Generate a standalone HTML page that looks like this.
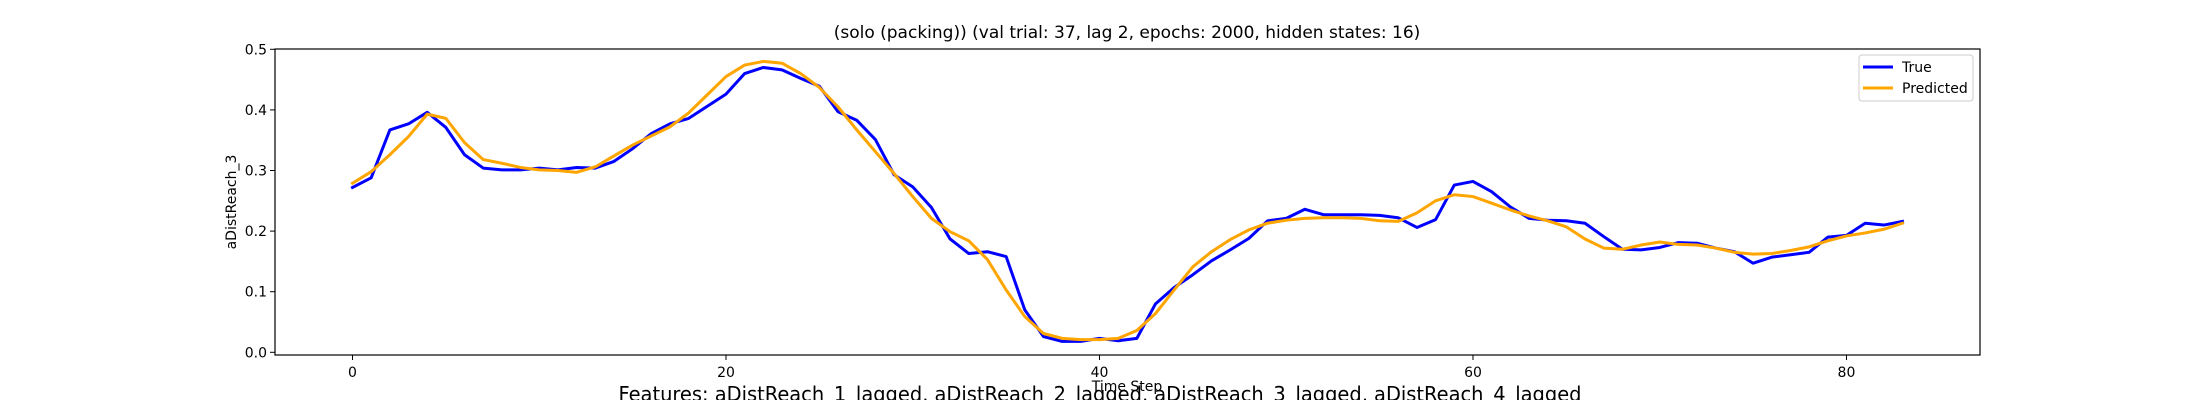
<!DOCTYPE html>
<html><head><meta charset="utf-8"><style>
html,body{margin:0;padding:0;background:#fff;}
svg{display:block;font-family:"DejaVu Sans","Liberation Sans",sans-serif;}
</style></head><body>
<svg id="chart" width="2200" height="400" viewBox="0 0 2200 400" xmlns="http://www.w3.org/2000/svg">
<rect width="2200" height="400" fill="#fff"/>
<text x="1127" y="38" font-size="17" text-anchor="middle">(solo (packing)) (val trial: 37, lag 2, epochs: 2000, hidden states: 16)</text>
<g id="axes"></g>
<text transform="translate(236,202) rotate(-90)" font-size="14" text-anchor="middle">aDistReach_3</text>
<text x="1127" y="391" font-size="14" text-anchor="middle">Time Step</text>
<text x="1100" y="401" font-size="20" text-anchor="middle" textLength="963" lengthAdjust="spacingAndGlyphs">Features: aDistReach_1_lagged, aDistReach_2_lagged, aDistReach_3_lagged, aDistReach_4_lagged</text>
<g>
<rect x="1859" y="55" width="114" height="46" rx="3" fill="#fff" stroke="#ccc" stroke-width="1"/>
<line x1="1863" y1="67" x2="1893" y2="67" stroke="#0000ff" stroke-width="3"/>
<text x="1902" y="72" font-size="14">True</text>
<line x1="1863" y1="88" x2="1893" y2="88" stroke="#ffa500" stroke-width="3"/>
<text x="1902" y="93" font-size="14">Predicted</text>
</g>
</svg>
<script>
const trueVals = [0.272,0.288,0.367,0.377,0.396,0.371,0.326,0.304,0.301,0.301,0.304,0.301,0.305,0.304,0.315,0.336,0.361,0.377,0.386,0.406,0.426,0.460,0.470,0.466,0.452,0.439,0.397,0.383,0.351,0.293,0.273,0.239,0.187,0.163,0.166,0.158,0.070,0.026,0.018,0.018,0.023,0.019,0.023,0.080,0.107,0.128,0.151,0.169,0.188,0.217,0.221,0.236,0.227,0.227,0.227,0.226,0.222,0.206,0.219,0.276,0.282,0.265,0.240,0.221,0.218,0.217,0.213,0.191,0.170,0.169,0.173,0.181,0.180,0.172,0.166,0.147,0.157,0.161,0.165,0.190,0.193,0.213,0.210,0.216];
const predVals = [0.279,0.298,0.326,0.356,0.393,0.386,0.346,0.318,0.312,0.305,0.301,0.300,0.297,0.306,0.324,0.342,0.357,0.372,0.395,0.425,0.455,0.474,0.480,0.477,0.460,0.437,0.405,0.367,0.331,0.295,0.257,0.221,0.199,0.184,0.153,0.103,0.059,0.031,0.023,0.021,0.021,0.023,0.036,0.064,0.103,0.141,0.166,0.186,0.202,0.213,0.218,0.221,0.222,0.222,0.221,0.217,0.216,0.230,0.250,0.260,0.257,0.246,0.235,0.225,0.217,0.207,0.187,0.172,0.170,0.177,0.182,0.178,0.177,0.172,0.165,0.162,0.163,0.168,0.174,0.184,0.192,0.197,0.203,0.213];
const xTicks = [0,20,40,60,80];
const yTicks = [0.0,0.1,0.2,0.3,0.4,0.5];
const yTickLabels = ["0.0","0.1","0.2","0.3","0.4","0.5"];

const L=275,R=1980,T=49,B=355;
const xMin=-4.15,xMax=87.15;
function xs(v){return L+(v-xMin)/(xMax-xMin)*(R-L);}
function ys(v){return 352.3-(v/0.5)*(352.3-49.3);}
const NS="http://www.w3.org/2000/svg";
const g=document.getElementById('axes');
function mk(tag,attrs){const e=document.createElementNS(NS,tag);for(const k in attrs)e.setAttribute(k,attrs[k]);return e;}

function series(vals,color,name){
  const d=vals.map((v,i)=>(i?'L':'M')+xs(i).toFixed(2)+','+ys(v).toFixed(2)).join('');
  const p=mk('path',{d:d,fill:'none',stroke:color,'stroke-width':3,'stroke-linejoin':'round','stroke-linecap':'square'});
  
  
  g.appendChild(p);
}
series(trueVals,'#0000ff','true-line');
series(predVals,'#ffa500','predicted-line');

const frame=mk('rect',{x:L,y:T,width:R-L,height:B-T,fill:'none',stroke:'#000','stroke-width':1.2});


g.appendChild(frame);

xTicks.forEach(v=>{
  const x=xs(v);
  const t=mk('line',{x1:x,y1:B,x2:x,y2:B+5,stroke:'#000','stroke-width':1});
  
  
  g.appendChild(t);
  const lb=mk('text',{x:x,y:B+22,'font-size':14,'text-anchor':'middle'});
  lb.textContent=String(v);
  
  
  g.appendChild(lb);
});
yTicks.forEach((v,i)=>{
  const y=ys(v);
  const t=mk('line',{x1:L-5,y1:y,x2:L,y2:y,stroke:'#000','stroke-width':1});
  
  
  g.appendChild(t);
  const lb=mk('text',{x:L-8,y:y+5,'font-size':14,'text-anchor':'end'});
  lb.textContent=yTickLabels[i];
  
  
  g.appendChild(lb);
});
</script>
</body></html>
